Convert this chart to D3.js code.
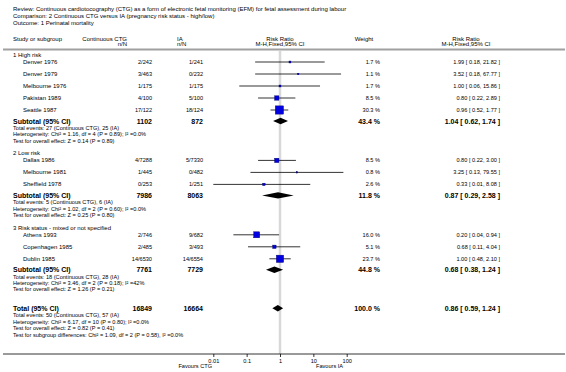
<!DOCTYPE html>
<html><head><meta charset="utf-8">
<script src="https://cdn.jsdelivr.net/npm/d3@7"></script>
<style>
html,body{margin:0;padding:0;background:#fff;}
svg{display:block;font-family:"Liberation Sans",Arial,sans-serif;}
</style></head>
<body><svg id="c" width="566" height="372"></svg>
<script>
// ---------- data ----------
const titleLines = [
  "Review:  Continuous cardiotocography (CTG) as a form of electronic fetal monitoring (EFM) for fetal assessment during labour",
  "Comparison:  2 Continuous CTG versus IA (pregnancy risk status - high/low)",
  "Outcome:  1 Perinatal mortality"
];
const groupNames = ["1 High risk", "2 Low risk", "3 Risk status - mixed or not specified"];
const studyNames = ["Denver 1976","Denver 1979","Melbourne 1976","Pakistan 1989","Seattle 1987",
  "Dallas 1986","Melbourne 1981","Sheffield 1978",
  "Athens 1993","Copenhagen 1985","Dublin 1985"];
const studyGroup = [0,0,0,0,0,1,1,1,2,2,2];
const ctgNN = ["2/242","3/463","1/175","4/100","17/122","4/7288","1/445","0/253","2/746","2/485","14/6530"];
const iaNN  = ["1/241","0/232","1/175","5/100","18/124","5/7330","0/482","1/251","9/682","3/493","14/6554"];
const studyWeight = [1.7,1.1,1.7,8.5,30.3,8.5,0.8,2.6,16.0,5.1,23.7];
const studyRR = [1.99,3.52,1.00,0.80,0.96,0.80,3.25,0.33,0.20,0.68,1.00];
const studyLo = [0.18,0.18,0.06,0.22,0.52,0.22,0.13,0.01,0.04,0.11,0.48];
const studyHi = [21.82,67.77,15.86,2.89,1.77,3.00,79.55,8.08,0.94,4.04,2.10];

const subCTG = ["1102","7986","7761"];
const subIA  = ["872","8063","7729"];
const subWeight = [43.4,11.8,44.8];
const subRR = [1.04,0.87,0.68];
const subLo = [0.62,0.29,0.38];
const subHi = [1.74,2.58,1.24];
const subNotes = [
  ["Total events: 27 (Continuous CTG), 25 (IA)",
   "Heterogeneity: Chi\u00b2 = 1.16, df = 4 (P = 0.89); I\u00b2 =0.0%",
   "Test for overall effect: Z = 0.14 (P = 0.89)"],
  ["Total events: 5 (Continuous CTG), 6 (IA)",
   "Heterogeneity: Chi\u00b2 = 1.02, df = 2 (P = 0.60); I\u00b2 =0.0%",
   "Test for overall effect: Z = 0.25 (P = 0.80)"],
  ["Total events: 18 (Continuous CTG), 28 (IA)",
   "Heterogeneity: Chi\u00b2 = 3.46, df = 2 (P = 0.18); I\u00b2 =42%",
   "Test for overall effect: Z = 1.26 (P = 0.21)"]
];
const totalCTG = "16849", totalIA = "16664";
const totalWeight = 100.0, totalRR = 0.86, totalLo = 0.59, totalHi = 1.24;
const totalNotes = [
  "Total events: 50 (Continuous CTG), 57 (IA)",
  "Heterogeneity: Chi\u00b2 = 6.17, df = 10 (P = 0.80); I\u00b2 =0.0%",
  "Test for overall effect: Z = 0.82 (P = 0.41)",
  "Test for subgroup differences: Chi\u00b2 = 1.09, df = 2 (P = 0.58), I\u00b2 =0.0%"
];
const tickValues = [0.01,0.1,1,10,100];
const tickLabels = ["0.01","0.1","1","10","100"];
const favourLeft = "Favours CTG", favourRight = "Favours IA";

// ---------- layout ----------
const svg = d3.select("#c");
const X = { left: 13, study: 23, ctgEnd: 152, iaEnd: 203, ctgHeadEnd: 127, iaHead: 177,
            weightEnd: 380, weightHead: 364, ciEnd: 500, ciHead: 466 };
const x = d3.scaleLog().domain([0.01,100]).range([213.3,346.7]);
const fs = 6, fsNote = 5.6, fsBold = 7;
const fmt2 = d3.format(".2f");
const ciText = (r,l,h) => `${fmt2(r)} [ ${fmt2(l)}, ${fmt2(h)} ]`;
const wText = w => `${d3.format(".1f")(w)} %`;

function text(xp, y, s, opt={}) {
  return svg.append("text").attr("x", xp).attr("y", y)
    .attr("font-size", opt.size || fs)
    .attr("font-weight", opt.bold ? "bold" : null)
    .attr("text-anchor", opt.anchor || "start")
    .attr("fill", "#000").text(s);
}

// title
titleLines.forEach((t,i) => text(X.left, 11 + i*7, t));

// header
text(X.left, 41, "Study or subgroup");
text(X.ctgHeadEnd, 41, "Continuous CTG", {anchor:"end"});
text(X.ctgHeadEnd, 46, "n/N", {anchor:"end"});
text(X.iaHead, 41, "IA");
text(X.iaHead, 46, "n/N");
text(x(1), 41, "Risk Ratio", {anchor:"middle"});
text(x(1), 46, "M-H,Fixed,95% CI", {anchor:"middle"});
text(X.weightHead, 41, "Weight", {anchor:"middle"});
text(X.ciHead, 41, "Risk Ratio", {anchor:"middle"});
text(X.ciHead, 46, "M-H,Fixed,95% CI", {anchor:"middle"});
svg.append("line").attr("x1",3).attr("x2",565).attr("y1",49.5).attr("y2",49.5)
  .attr("stroke","#a0a0a0").attr("stroke-width",2);

// vertical line of no effect
const axisY = 354;
svg.append("line").attr("x1",x(1)).attr("x2",x(1)).attr("y1",51).attr("y2",axisY)
  .attr("stroke","#d8d8d8").attr("stroke-width",2.5);

// rows
let y = 55;
const rowStep = 12;
const plot = svg.append("g");
function drawDiamond(cy, r, l, h) {
  const pts = [[x(l),cy],[x(r),cy-3.2],[x(h),cy],[x(r),cy+3.2]];
  plot.append("path").attr("d", d3.line()(pts) + "Z").attr("fill","#000");
}
groupNames.forEach((g, gi) => {
  text(X.left, y + 2, g);
  y += 7;
  studyNames.forEach((s, i) => {
    if (studyGroup[i] !== gi) return;
    const by = y + 2;
    text(X.study, by, s);
    text(X.ctgEnd, by, ctgNN[i], {anchor:"end", size:fsNote});
    text(X.iaEnd, by, iaNN[i], {anchor:"end", size:fsNote});
    text(X.weightEnd, by, wText(studyWeight[i]), {anchor:"end", size:fsNote});
    text(X.ciEnd, by, ciText(studyRR[i], studyLo[i], studyHi[i]), {anchor:"end", size:fsNote});
    plot.append("line").attr("x1", x(studyLo[i])).attr("x2", x(studyHi[i]))
      .attr("y1", y).attr("y2", y).attr("stroke","#000").attr("stroke-width",0.8);
    const side = Math.max(1.2, 1.5*Math.sqrt(studyWeight[i]));
    plot.append("rect").attr("x", x(studyRR[i]) - side/2).attr("y", y - side/2)
      .attr("width", side).attr("height", side)
      .attr("fill","#0000e0").attr("stroke","#000060").attr("stroke-width",0.4);
    y += rowStep;
  });
  y -= 1;
  const sy = y;
  text(X.left, sy + 2.5, "Subtotal (95% CI)", {bold:true, size:fsBold});
  text(X.ctgEnd, sy + 2.5, subCTG[gi], {anchor:"end", bold:true, size:fsBold});
  text(X.iaEnd, sy + 2.5, subIA[gi], {anchor:"end", bold:true, size:fsBold});
  text(X.weightEnd, sy + 2.5, wText(subWeight[gi]), {anchor:"end", bold:true, size:fsBold});
  text(X.ciEnd, sy + 2.5, ciText(subRR[gi], subLo[gi], subHi[gi]), {anchor:"end", bold:true, size:fsBold});
  drawDiamond(sy, subRR[gi], subLo[gi], subHi[gi]);
  y += 7;
  subNotes[gi].forEach(n => { text(X.left, y + 2, n, {size:fsNote}); y += 6.3; });
  y += 6.5;
});
// total
y += 6;
text(X.left, y + 2.5, "Total (95% CI)", {bold:true, size:fsBold});
text(X.ctgEnd, y + 2.5, totalCTG, {anchor:"end", bold:true, size:fsBold});
text(X.iaEnd, y + 2.5, totalIA, {anchor:"end", bold:true, size:fsBold});
text(X.weightEnd, y + 2.5, wText(totalWeight), {anchor:"end", bold:true, size:fsBold});
text(X.ciEnd, y + 2.5, ciText(totalRR, totalLo, totalHi), {anchor:"end", bold:true, size:fsBold});
drawDiamond(y, totalRR, totalLo, totalHi);
y += 7;
totalNotes.forEach(n => { text(X.left, y + 2, n, {size:fsNote}); y += 6.5; });

// axis
svg.append("line").attr("x1",3).attr("x2",565).attr("y1",axisY).attr("y2",axisY)
  .attr("stroke","#000").attr("stroke-width",0.8);
const ax = svg.append("g").attr("transform",`translate(0,${axisY})`)
  .call(d3.axisBottom(x).tickValues(tickValues).tickSize(3).tickPadding(2)
        .tickFormat((d,i) => tickLabels[i]));
ax.select(".domain").remove();
ax.selectAll("text").attr("font-size", fsNote).attr("font-family","Liberation Sans, Arial, sans-serif");
ax.selectAll("line").attr("stroke-width",0.8);
text(212, 368, favourLeft, {anchor:"end", size:fsNote});
text(316, 368, favourRight, {size:fsNote});
</script></body></html>
